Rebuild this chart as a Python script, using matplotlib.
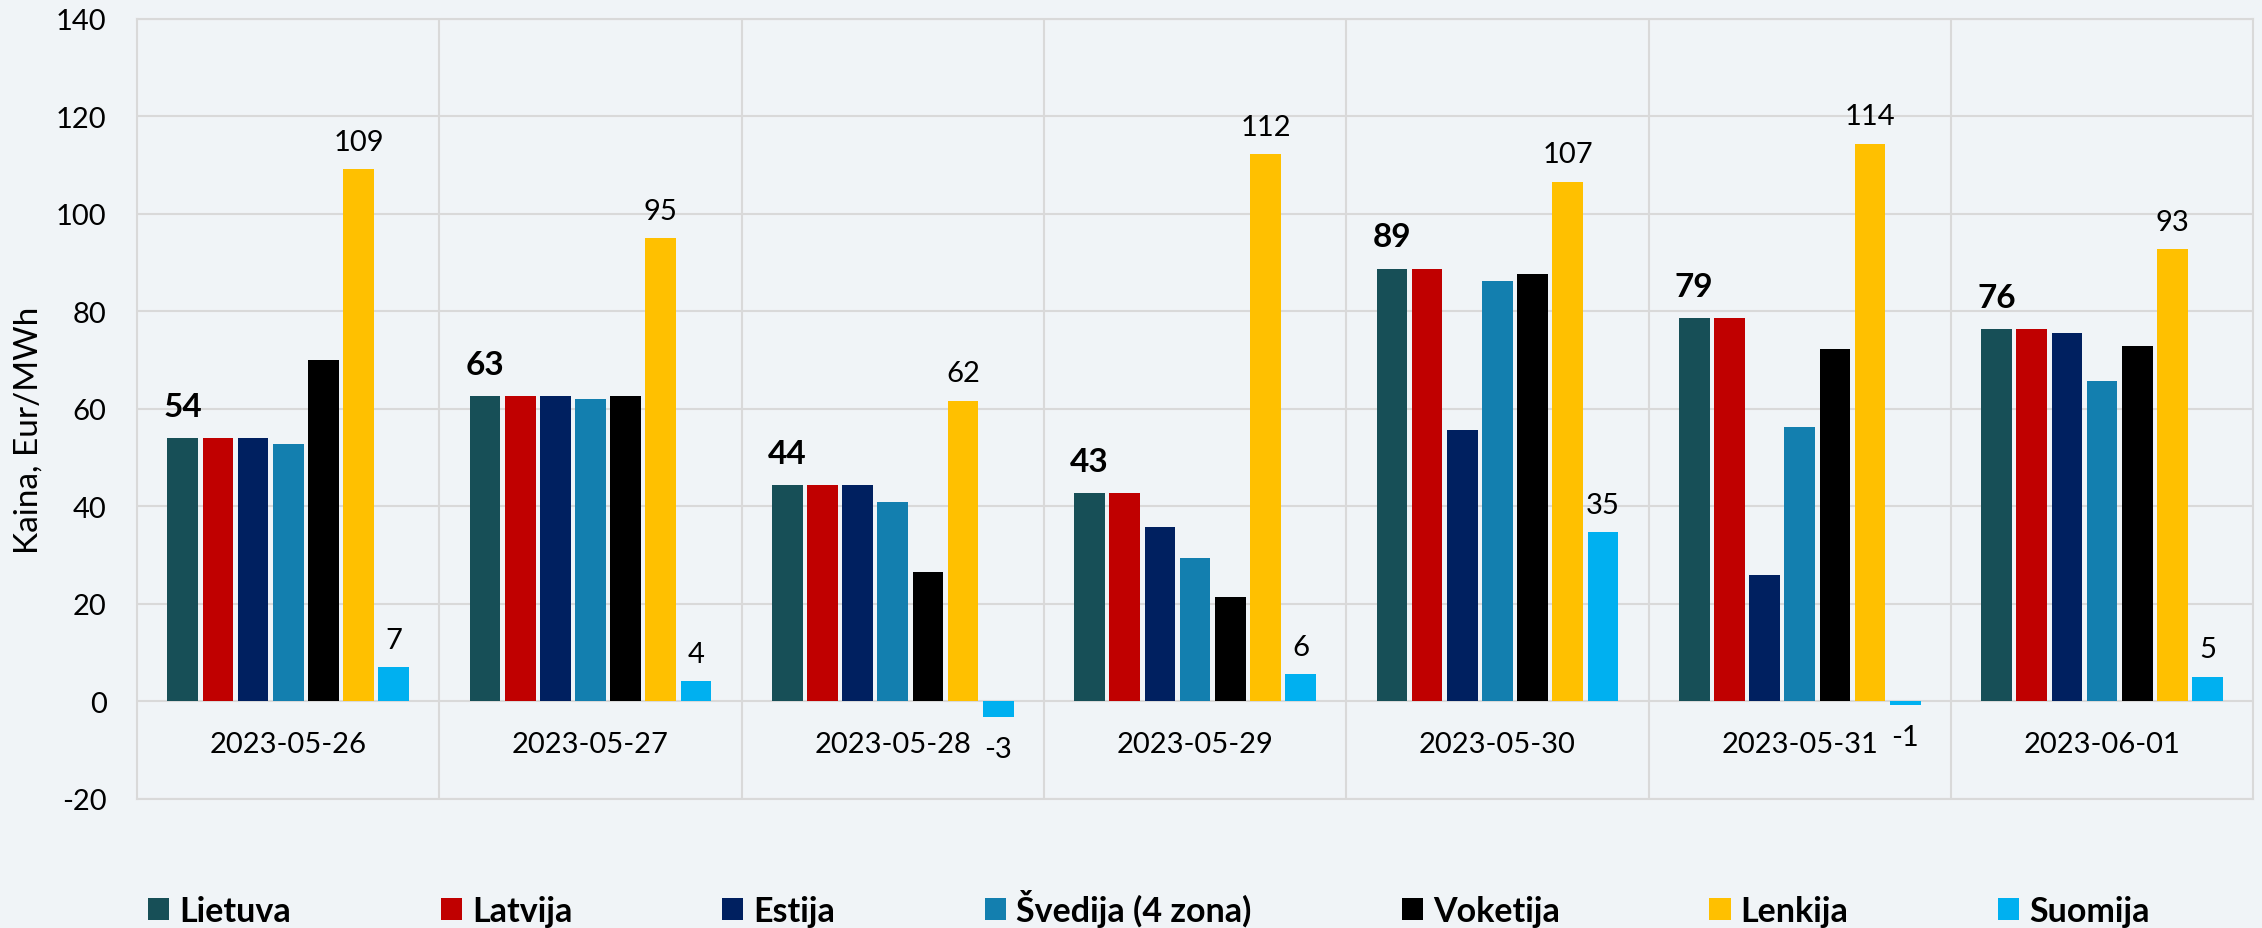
import numpy as np
import matplotlib.pyplot as plt
from matplotlib.patches import Patch

plt.rcParams['font.family'] = ['Lato', 'DejaVu Sans']
plt.rcParams['axes.unicode_minus'] = False

# data
dates = ["2023-05-26", "2023-05-27", "2023-05-28", "2023-05-29",
         "2023-05-30", "2023-05-31", "2023-06-01"]
countries = ["Lietuva", "Latvija", "Estija", "Švedija (4 zona)",
             "Voketija", "Lenkija", "Suomija"]
colors = ["#174F57", "#C00000", "#002060", "#137FAF",
          "#000000", "#FFC000", "#00B0F0"]

lietuva = [54.0, 62.6, 44.4, 42.8, 88.8, 78.6, 76.4]
latvija = [54.0, 62.6, 44.4, 42.8, 88.8, 78.6, 76.4]
estija = [54.0, 62.6, 44.4, 35.7, 55.6, 25.9, 75.5]
svedija = [52.8, 62.1, 40.9, 29.4, 86.3, 56.2, 65.8]
voketija = [70.0, 62.7, 26.6, 21.4, 87.7, 72.3, 72.9]
lenkija = [109.2, 95.0, 61.7, 112.3, 106.6, 114.4, 92.8]
suomija = [7.0, 4.2, -3.1, 5.6, 34.7, -0.7, 5.1]

series = [lietuva, latvija, estija, svedija, voketija, lenkija, suomija]

bg = "#F0F4F7"
grid_col = "#D9D9D9"

fig = plt.figure(figsize=(22.62, 9.29), dpi=100, facecolor=bg)
ax = fig.add_axes([0.0606, 0.1389, 0.9355, 0.8396])
ax.set_facecolor(bg)

x = np.arange(len(dates))
slot = 0.1163
width = 0.1016

for k, (name, vals, col) in enumerate(zip(countries, series, colors)):
    pos = x + (k - 3) * slot
    ax.bar(pos, vals, width, color=col, label=name, zorder=3)
    # data labels only on Lietuva (bold), Lenkija and Suomija
    if name == "Lietuva":
        for px, v in zip(pos, vals):
            ax.annotate(f"{v:.0f}", (px, v), xytext=(0, 16), textcoords="offset points",
                        ha="center", va="baseline", fontsize=24, fontweight="bold")
    elif name in ("Lenkija", "Suomija"):
        for px, v in zip(pos, vals):
            if v >= 0:
                ax.annotate(f"{v:.0f}", (px, v), xytext=(0, 14), textcoords="offset points",
                            ha="center", va="baseline", fontsize=21)
            else:
                ax.annotate(f"{v:.0f}", (px, v), xytext=(0, -14), textcoords="offset points",
                            ha="center", va="top", fontsize=21)

# category labels under the zero line
for xi, d in zip(x, dates):
    ax.annotate(d, (xi, 0), xytext=(0, -21), textcoords="offset points",
                ha="center", va="top", fontsize=21)

ax.set_xlim(-0.5, len(dates) - 0.5)
ax.set_ylim(-20, 140)
ax.set_yticks(range(-20, 141, 20))
ax.set_xticks([])
ax.set_xticks(np.arange(0.5, len(dates) - 0.5, 1), minor=True)
ax.tick_params(axis="x", which="both", length=0, labelbottom=False)
ax.tick_params(axis="y", length=0, pad=22, labelsize=21)
ax.yaxis.grid(True, color=grid_col, lw=1.5, zorder=0)
ax.xaxis.grid(True, which="minor", color=grid_col, lw=1.5, zorder=0)
for s in ax.spines.values():
    s.set_color(grid_col)
    s.set_linewidth(1.5)

ax.set_ylabel("Kaina, Eur/MWh", fontsize=24, va="center")
ax.yaxis.set_label_coords(-0.0515, 0.474)

handles = [Patch(facecolor=c, label=n) for n, c in zip(countries, colors)]
fig.legend(handles=handles, loc="center", bbox_to_anchor=(0.508, 0.0215), ncol=7,
           frameon=False, prop={"weight": "bold", "size": 24.5},
           handlelength=0.62, handleheight=0.62, handletextpad=0.3, columnspacing=4.4)

fig.savefig("out.png", dpi=100, facecolor=bg)
